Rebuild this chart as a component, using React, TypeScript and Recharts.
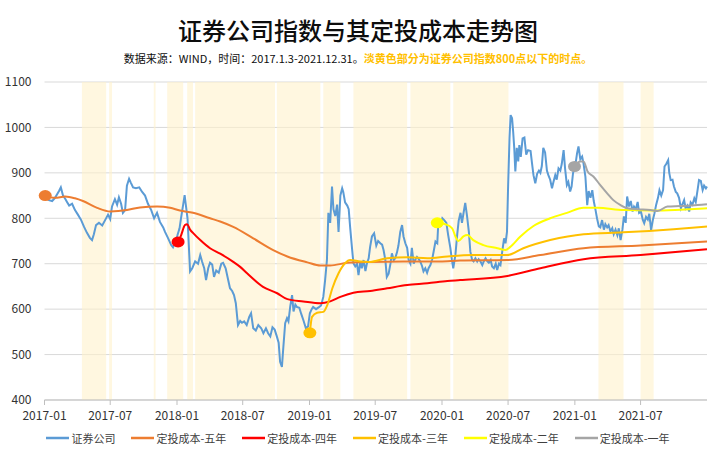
import React from "react";
import { LineChart, Line, XAxis, YAxis, CartesianGrid, ReferenceArea } from "recharts";

const titleText = "证券公司指数与其定投成本走势图";
const sourceText = "数据来源：WIND，时间：2017.1.3-2021.12.31。";
const noteText = "淡黄色部分为证券公司指数800点以下的时点。";

const xTickLabels = ["2017-01", "2017-07", "2018-01", "2018-07", "2019-01", "2019-07", "2020-01", "2020-07", "2021-01", "2021-07"];
const xDomain = ["2017-01-01", "2021-12-31"];
const yTicks = [400, 500, 600, 700, 800, 900, 1000, 1100];

const brokerIndex: [string, number][] = [
  ["2017-01-03",846],["2017-01-13",840],["2017-01-22",838],["2017-01-30",845],["2017-02-04",852],["2017-02-10",860],["2017-02-15",868],["2017-02-21",850],["2017-02-27",843],["2017-03-04",836],["2017-03-10",828],["2017-03-18",832],["2017-03-26",818],["2017-04-03",808],["2017-04-12",796],["2017-04-20",781],["2017-04-28",768],["2017-05-06",757],["2017-05-12",752],["2017-05-17",765],["2017-05-23",785],["2017-05-31",790],["2017-06-09",784],["2017-06-17",796],["2017-06-25",808],["2017-07-01",798],["2017-07-06",826],["2017-07-14",842],["2017-07-20",830],["2017-07-25",846],["2017-07-31",832],["2017-08-05",812],["2017-08-11",818],["2017-08-16",872],["2017-08-22",887],["2017-08-27",878],["2017-09-02",868],["2017-09-10",866],["2017-09-19",868],["2017-09-27",858],["2017-10-05",850],["2017-10-13",832],["2017-10-22",818],["2017-10-30",800],["2017-11-07",812],["2017-11-15",792],["2017-11-24",780],["2017-11-29",770],["2017-12-07",757],["2017-12-16",741],["2017-12-21",736],["2017-12-27",748],
  ["2018-01-02",762],["2018-01-08",778],["2018-01-12",800],["2018-01-18",830],["2018-01-22",851],["2018-01-26",825],["2018-01-30",800],["2018-02-06",683],["2018-02-12",690],["2018-02-20",705],["2018-02-28",700],["2018-03-06",719],["2018-03-11",705],["2018-03-17",690],["2018-03-22",664],["2018-03-28",690],["2018-04-02",702],["2018-04-08",698],["2018-04-13",671],["2018-04-19",685],["2018-04-26",680],["2018-05-03",700],["2018-05-08",702],["2018-05-15",690],["2018-05-22",664],["2018-05-27",646],["2018-06-02",640],["2018-06-07",631],["2018-06-12",613],["2018-06-18",565],["2018-06-24",574],["2018-06-29",570],["2018-07-05",573],["2018-07-12",565],["2018-07-19",583],["2018-07-24",591],["2018-07-30",558],["2018-08-06",553],["2018-08-13",565],["2018-08-21",558],["2018-08-27",547],["2018-09-03",558],["2018-09-09",547],["2018-09-15",540],["2018-09-21",560],["2018-09-27",555],["2018-10-03",540],["2018-10-08",526],["2018-10-12",484],["2018-10-17",473],["2018-10-21",517],["2018-10-26",569],["2018-10-31",580],["2018-11-04",573],["2018-11-09",606],["2018-11-14",631],["2018-11-18",595],["2018-11-23",610],["2018-11-27",605],["2018-12-04",603],["2018-12-09",590],["2018-12-15",576],["2018-12-22",558],["2018-12-28",562],
  ["2019-01-02",591],["2019-01-07",600],["2019-01-11",605],["2019-01-19",600],["2019-01-28",605],["2019-02-02",608],["2019-02-08",627],["2019-02-13",664],["2019-02-18",708],["2019-02-22",812],["2019-02-27",790],["2019-03-04",870],["2019-03-08",820],["2019-03-13",805],["2019-03-18",830],["2019-03-22",770],["2019-03-27",850],["2019-04-01",866],["2019-04-04",858],["2019-04-09",835],["2019-04-15",828],["2019-04-19",820],["2019-04-23",780],["2019-04-28",735],["2019-05-02",701],["2019-05-07",694],["2019-05-12",700],["2019-05-16",675],["2019-05-21",705],["2019-05-25",690],["2019-05-30",708],["2019-06-04",684],["2019-06-08",700],["2019-06-13",712],["2019-06-17",737],["2019-06-22",760],["2019-06-28",767],["2019-07-04",740],["2019-07-09",750],["2019-07-15",745],["2019-07-20",742],["2019-07-24",730],["2019-07-29",708],["2019-08-02",671],["2019-08-07",678],["2019-08-12",700],["2019-08-16",723],["2019-08-21",708],["2019-08-25",712],["2019-08-30",725],["2019-09-03",740],["2019-09-08",770],["2019-09-13",785],["2019-09-17",760],["2019-09-22",745],["2019-09-27",735],["2019-10-01",708],["2019-10-06",700],["2019-10-10",735],["2019-10-15",700],["2019-10-19",708],["2019-10-24",715],["2019-10-29",710],["2019-11-02",705],["2019-11-07",695],["2019-11-11",683],["2019-11-16",690],["2019-11-21",680],["2019-11-25",690],["2019-11-30",697],["2019-12-05",710],["2019-12-09",727],["2019-12-14",749],["2019-12-19",745],["2019-12-22",793],["2019-12-28",785],
  ["2020-01-02",800],["2020-01-07",796],["2020-01-13",790],["2020-01-18",763],["2020-01-24",735],["2020-01-28",710],["2020-02-01",690],["2020-02-07",720],["2020-02-12",765],["2020-02-16",795],["2020-02-21",812],["2020-02-25",790],["2020-03-01",815],["2020-03-05",834],["2020-03-10",805],["2020-03-15",770],["2020-03-19",727],["2020-03-24",708],["2020-03-28",705],["2020-04-02",712],["2020-04-07",705],["2020-04-11",710],["2020-04-16",705],["2020-04-21",697],["2020-04-25",705],["2020-04-30",712],["2020-05-05",705],["2020-05-09",702],["2020-05-14",708],["2020-05-18",694],["2020-05-23",690],["2020-05-28",700],["2020-06-01",686],["2020-06-06",700],["2020-06-10",697],["2020-06-15",727],["2020-06-20",756],["2020-06-24",745],["2020-06-28",770],["2020-07-01",867],["2020-07-05",977],["2020-07-08",1027],["2020-07-12",1020],["2020-07-15",991],["2020-07-18",955],["2020-07-21",903],["2020-07-25",955],["2020-07-29",925],["2020-08-01",961],["2020-08-05",935],["2020-08-10",976],["2020-08-15",978],["2020-08-20",940],["2020-08-25",950],["2020-09-01",948],["2020-09-05",921],["2020-09-09",895],["2020-09-14",877],["2020-09-19",898],["2020-09-24",905],["2020-09-28",900],["2020-10-02",915],["2020-10-06",955],["2020-10-11",945],["2020-10-16",905],["2020-10-20",895],["2020-10-25",885],["2020-10-30",866],["2020-11-03",880],["2020-11-08",895],["2020-11-12",885],["2020-11-17",910],["2020-11-22",905],["2020-11-26",920],["2020-12-01",950],["2020-12-05",910],["2020-12-10",873],["2020-12-14",880],["2020-12-19",859],["2020-12-23",870],["2020-12-27",900],
  ["2021-01-02",915],["2021-01-07",943],["2021-01-11",958],["2021-01-16",930],["2021-01-21",936],["2021-01-25",920],["2021-01-30",892],["2021-02-04",829],["2021-02-08",860],["2021-02-13",845],["2021-02-18",862],["2021-02-22",838],["2021-02-27",818],["2021-03-03",800],["2021-03-08",782],["2021-03-12",780],["2021-03-17",796],["2021-03-22",775],["2021-03-26",787],["2021-03-31",780],["2021-04-04",785],["2021-04-09",771],["2021-04-14",778],["2021-04-18",765],["2021-04-23",775],["2021-04-28",763],["2021-05-02",778],["2021-05-07",752],["2021-05-12",775],["2021-05-16",804],["2021-05-21",790],["2021-05-25",848],["2021-05-30",826],["2021-06-04",838],["2021-06-09",815],["2021-06-13",826],["2021-06-18",820],["2021-06-23",836],["2021-06-27",812],["2021-07-02",815],["2021-07-07",797],["2021-07-11",789],["2021-07-16",803],["2021-07-21",797],["2021-07-25",810],["2021-07-30",774],["2021-08-04",797],["2021-08-08",810],["2021-08-13",830],["2021-08-18",845],["2021-08-22",862],["2021-08-27",850],["2021-09-01",862],["2021-09-05",914],["2021-09-10",920],["2021-09-15",928],["2021-09-18",900],["2021-09-22",884],["2021-09-27",885],["2021-10-01",870],["2021-10-06",858],["2021-10-10",855],["2021-10-15",845],["2021-10-20",822],["2021-10-24",830],["2021-10-29",840],["2021-11-02",822],["2021-11-07",828],["2021-11-12",815],["2021-11-16",835],["2021-11-21",830],["2021-11-26",844],["2021-11-30",836],["2021-12-05",862],["2021-12-09",884],["2021-12-14",882],["2021-12-19",862],["2021-12-23",872],["2021-12-28",866],["2021-12-31",870],
];

const cost5y: [string, number][] = [
  ["2017-01-03",850],["2017-01-30",845],["2017-02-27",848],["2017-03-26",844],["2017-04-17",838],["2017-05-26",823],["2017-07-01",815],["2017-08-16",818],["2017-09-21",824],["2017-11-07",826],["2017-12-13",823],["2018-01-09",817],["2018-02-14",812],["2018-04-02",800],["2018-04-30",793],["2018-06-05",781],["2018-07-30",756],["2018-09-23",730],["2018-11-01",716],["2018-12-26",703],["2019-01-31",696],["2019-02-27",696],["2019-04-15",702],["2019-06-17",704],["2019-09-16",705],["2019-12-27",705],["2020-02-20",707],["2020-06-29",708],["2020-09-28",719],["2021-01-25",734],["2021-07-01",740],["2021-12-31",749],
];

const cost4y: [string, number][] = [
  ["2018-01-04",748],["2018-01-12",762],["2018-01-23",785],["2018-01-29",787],["2018-02-06",775],["2018-02-14",768],["2018-03-06",752],["2018-04-02",734],["2018-04-30",722],["2018-06-05",704],["2018-06-24",693],["2018-07-13",679],["2018-08-26",649],["2018-10-04",635],["2018-11-01",622],["2018-12-15",617],["2019-01-31",613],["2019-02-27",617],["2019-03-27",627],["2019-05-02",636],["2019-06-17",640],["2019-08-03",646],["2019-09-27",653],["2019-11-22",657],["2020-01-16",662],["2020-02-20",664],["2020-06-29",673],["2020-09-28",690],["2021-01-25",710],["2021-07-01",719],["2021-12-31",732],
];

const cost3y: [string, number][] = [
  ["2019-01-02",548],["2019-01-08",583],["2019-01-22",592],["2019-02-08",594],["2019-02-19",609],["2019-03-05",646],["2019-03-22",679],["2019-04-09",701],["2019-04-23",708],["2019-05-21",705],["2019-06-17",704],["2019-08-03",712],["2019-09-27",714],["2019-11-22",712],["2020-01-16",716],["2020-03-27",719],["2020-06-29",719],["2020-08-12",734],["2020-10-25",752],["2021-01-25",765],["2021-05-15",769],["2021-09-30",776],["2021-12-31",782],
];

const cost2y: [string, number][] = [
  ["2019-12-19",790],["2020-01-10",787],["2020-01-29",778],["2020-02-07",760],["2020-02-15",750],["2020-02-29",760],["2020-03-11",763],["2020-03-27",752],["2020-04-24",741],["2020-06-02",734],["2020-06-24",730],["2020-07-07",737],["2020-08-04",760],["2020-09-09",783],["2020-10-25",800],["2020-12-10",812],["2021-01-25",823],["2021-03-04",823],["2021-05-15",818],["2021-08-06",817],["2021-10-19",819],["2021-12-31",822],
];

const cost1y: [string, number][] = [
  ["2020-12-31",914],["2021-01-16",925],["2021-01-25",925],["2021-02-05",903],["2021-02-21",892],["2021-03-12",873],["2021-03-31",855],["2021-04-17",840],["2021-05-07",829],["2021-05-26",822],["2021-06-23",820],["2021-07-28",818],["2021-08-17",816],["2021-09-13",826],["2021-10-19",827],["2021-12-05",829],["2021-12-31",831],
];

const below800Periods: [string, string][] = [
  ["2017-04-14","2017-06-20"],["2017-06-28","2017-07-06"],["2017-10-29","2017-11-03"],["2017-12-05","2018-01-18"],["2018-01-29","2018-02-14"],["2018-02-20","2018-09-28"],["2018-10-03","2019-01-31"],["2019-02-08","2019-03-27"],["2019-05-02","2019-09-27"],["2019-10-06","2020-01-24"],["2020-02-01","2020-07-02"],["2021-03-07","2021-05-15"],["2021-07-01","2021-08-06"],
];

const seriesNames = ["证券公司", "定投成本-五年", "定投成本-四年", "定投成本-三年", "定投成本-二年", "定投成本-一年"];
const seriesColors = ["#5B9BD5", "#ED7D31", "#FF0000", "#FFC000", "#FFFF00", "#A5A5A5"];
const seriesData = [brokerIndex, cost5y, cost4y, cost3y, cost2y, cost1y];

const toT = (s: string) => Date.parse(s + "T00:00:00Z");
const fmtTick = (t: number) => {
  const d = new Date(t);
  return `${d.getUTCFullYear()}-${String(d.getUTCMonth() + 1).padStart(2, "0")}`;
};

const FONT = '"Noto Sans CJK SC", "Noto Sans", sans-serif';

const firstDot = (color: string) => (p: any) =>
  p.index === 0 ? (
    <ellipse key={`dot-${p.index}`} cx={p.cx} cy={p.cy} rx={6.5} ry={5.5} fill={color} />
  ) : (
    <g key={`dot-${p.index}`} />
  );

export default function App() {
  const lines = seriesData.map((arr) => arr.map(([d, v]) => ({ t: toT(d), v })));
  return (
    <div style={{ position: "relative", width: 716, height: 457, background: "#fff", fontFamily: FONT }}>
      <style>{"body{margin:0}"}</style>
      <div style={{ position: "absolute", top: 15, left: 0, width: 716, textAlign: "center", fontSize: 24, lineHeight: "30px", color: "#0d0d0d", fontWeight: 500 }}>
        {titleText}
      </div>
      <div style={{ position: "absolute", top: 50, left: 0, width: 716, textAlign: "center", fontSize: 11, lineHeight: "16px", color: "#0d0d0d" }}>
        <span>{sourceText}</span>
        <span style={{ color: "#FFC000", fontWeight: 700 }}>{noteText}</span>
      </div>
      <LineChart width={716} height={457} margin={{ top: 82, right: 9, left: 0, bottom: 27 }} style={{ position: "absolute", top: 0, left: 0 }}>
        <CartesianGrid vertical={false} stroke="#D9D9D9" strokeWidth={1} />
        {below800Periods.map(([a, b], i) => (
          <ReferenceArea key={i} x1={toT(a)} x2={toT(b)} y1={400} y2={1100} fill="#FFF2CC" fillOpacity={0.6} stroke="none" />
        ))}
        <XAxis
          dataKey="t"
          type="number"
          domain={[toT(xDomain[0]), toT(xDomain[1])]}
          ticks={xTickLabels.map((l) => toT(l + "-01"))}
          tickFormatter={fmtTick}
          axisLine={{ stroke: "#BFBFBF" }}
          tickLine={{ stroke: "#BFBFBF" }}
          tickSize={5}
          tickMargin={6}
          tick={{ fontSize: 12, fill: "#333", fontFamily: FONT }}
          height={30}
        />
        <YAxis
          type="number"
          domain={[400, 1100]}
          ticks={yTicks}
          axisLine={false}
          tickLine={false}
          tickSize={0}
          tickMargin={13}
          width={44.5}
          tick={{ fontSize: 12, fill: "#333", fontFamily: FONT }}
        />
        {lines.map((data, i) => (
          <Line
            key={seriesNames[i]}
            data={data}
            dataKey="v"
            name={seriesNames[i]}
            type={i === 0 ? "linear" : "monotone"}
            stroke={seriesColors[i]}
            strokeWidth={2}
            dot={i === 0 ? false : firstDot(seriesColors[i])}
            activeDot={false}
            isAnimationActive={false}
          />
        ))}
      </LineChart>
      <div style={{ position: "absolute", top: 430, left: 0, width: 716, display: "flex", justifyContent: "center", gap: 16, fontSize: 11, color: "#404040", lineHeight: "16px" }}>
        {seriesNames.map((n, i) => (
          <div key={n} style={{ display: "flex", alignItems: "center" }}>
            <svg width={23} height={10} style={{ marginRight: 2 }}>
              <line x1={0} y1={5} x2={23} y2={5} stroke={seriesColors[i]} strokeWidth={2.5} />
            </svg>
            <span>{n}</span>
          </div>
        ))}
      </div>
    </div>
  );
}
